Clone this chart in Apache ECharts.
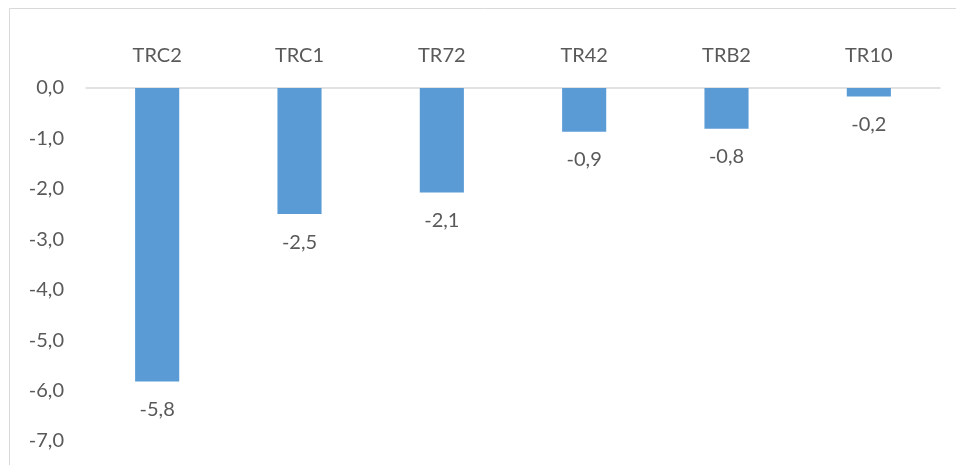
<!DOCTYPE html>
<html>
<head>
<meta charset="utf-8">
<script src="https://cdn.jsdelivr.net/npm/echarts@6/dist/echarts.min.js"></script>
<style>
  html, body { margin: 0; padding: 0; background: #fff; }
  #chart { width: 956px; height: 465px; }
</style>
</head>
<body>
<div id="chart"></div>
<script>
const categories = ['TRC2', 'TRC1', 'TR72', 'TR42', 'TRB2', 'TR10']
const values = [-5.82, -2.5, -2.07, -0.87, -0.81, -0.17]

const fmt = v => v.toFixed(1).replace('.', ',')

const chart = echarts.init(document.getElementById('chart'))

const textStyle = { color: '#595959', fontSize: 20, fontFamily: 'Lato' }

chart.setOption({
  animation: false,
  graphic: [{
    type: 'rect',
    shape: { x: 9.5, y: 8.5, width: 980, height: 480 },
    style: { fill: 'none', stroke: '#d9d9d9', lineWidth: 1 },
    silent: true,
  }],
  grid: { left: 86, right: 16, top: 88, bottom: 24 },
  xAxis: {
    type: 'category',
    data: categories,
    position: 'top',
    axisLine: { lineStyle: { color: '#d9d9d9', width: 1.5 } },
    axisTick: { show: false },
    axisLabel: { ...textStyle, margin: 22 },
  },
  yAxis: {
    type: 'value',
    min: -7,
    max: 0,
    interval: 1,
    axisLine: { show: false },
    axisTick: { show: false },
    splitLine: { show: false },
    axisLabel: { ...textStyle, margin: 22, formatter: v => fmt(v) },
  },
  series: [{
    type: 'bar',
    data: values,
    barWidth: '31%',
    itemStyle: { color: '#5b9bd5' },
    label: {
      show: true,
      position: 'bottom',
      distance: 18,
      ...textStyle,
      formatter: p => fmt(p.value),
    },
  }],
})
</script>
</body>
</html>
